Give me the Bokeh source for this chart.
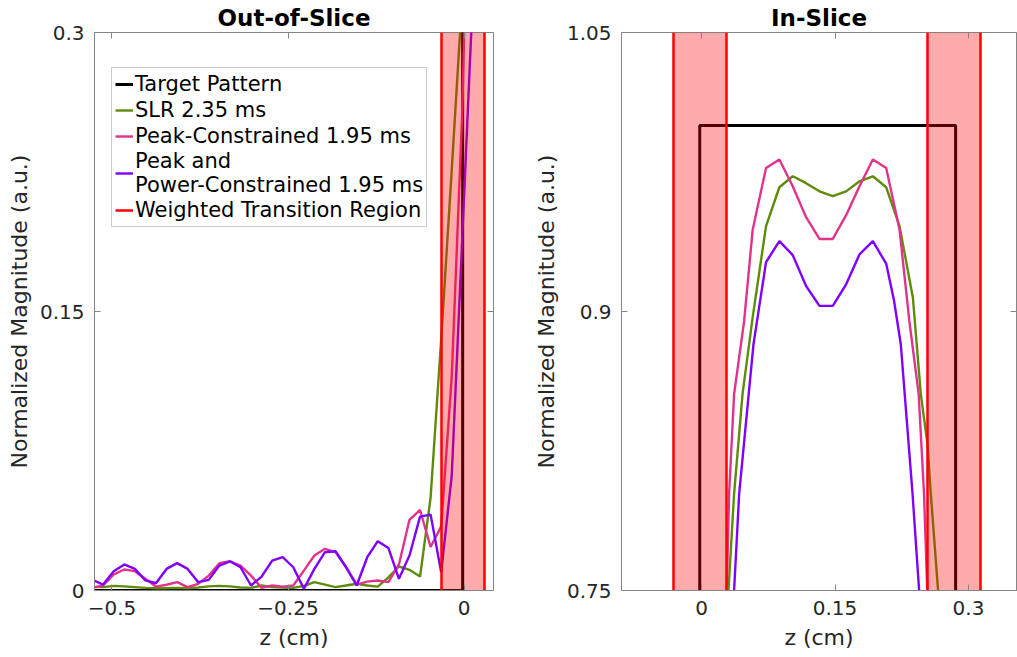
from bokeh.plotting import figure
from bokeh.models import Range1d, LinearAxis, FixedTicker, Legend, LegendItem
from bokeh.layouts import row
from bokeh.embed import file_html
from bokeh.resources import INLINE

# ---------------- data ----------------
# target slice profile
target_z = [-0.5275, -0.002, -0.002, 0.2855, 0.2855, 0.40]
target_m = [0, 0, 1, 1, 0, 0]

# weighted transition regions (cm)
band_lo = [-0.0315, 0.2535]
band_hi = [0.0285, 0.3135]

# out-of-slice sample grid (cm)
z_out = [-0.5275, -0.5125, -0.4975, -0.4825, -0.4675, -0.4525, -0.4375, -0.4225,
         -0.4075, -0.3925, -0.3775, -0.3625, -0.3475, -0.3325, -0.3175, -0.3025,
         -0.2875, -0.2725, -0.2575, -0.2425, -0.2275, -0.2125, -0.1975, -0.1825,
         -0.1675, -0.1525, -0.1375, -0.1225, -0.1075, -0.0925, -0.0775, -0.0625,
         -0.0475, -0.0325, -0.0175, -0.0025]

slr_out = [0.002, 0.0018, 0.0025, 0.0022, 0.0018, 0.0014, 0.0012, 0.0012, 0.0014,
           0.0012, 0.0016, 0.0022, 0.0025, 0.0022, 0.0016, 0.0014, 0.0027, 0.0018,
           0.0016, 0.0014, 0.0025, 0.0045, 0.0032, 0.0018, 0.0027, 0.0036, 0.0027,
           0.0021, 0.0071, 0.0129, 0.0111, 0.0075, 0.05, 0.135, 0.226, 0.32]
slr_in_z = [0.0303, 0.0366, 0.0461, 0.0575, 0.0725, 0.0875, 0.1025, 0.1175, 0.1325,
            0.1475, 0.1625, 0.1775, 0.1925, 0.2075, 0.2225, 0.2375, 0.2464, 0.2539,
            0.2576, 0.2658, 0.28]
slr_in = [0.75, 0.802, 0.8557, 0.897, 0.9459, 0.9668, 0.9727, 0.969, 0.9646, 0.962,
          0.9646, 0.97, 0.9727, 0.9668, 0.9459, 0.9074, 0.8556, 0.8287, 0.802, 0.75, 0.62]

peak_out = [0.0014, 0.0027, 0.0086, 0.0113, 0.0104, 0.0063, 0.0021, 0.0031, 0.0045,
            0.0018, 0.0036, 0.008, 0.0147, 0.0157, 0.0134, 0.008, 0.0014, 0.0027,
            0.0021, 0.0027, 0.0107, 0.0188, 0.0224, 0.0206, 0.0125, 0.0032, 0.0048,
            0.0054, 0.0045, 0.014, 0.038, 0.0433, 0.0234, 0.0345, 0.115, 0.258]
peak_in_z = [0.0125, 0.0284, 0.031, 0.0366, 0.0479, 0.0575, 0.0725, 0.0875, 0.1025,
             0.1175, 0.1325, 0.1475, 0.1625, 0.1775, 0.1925, 0.2075, 0.2225, 0.2335,
             0.2440, 0.2500, 0.2536, 0.26]
peak_in = [0.50, 0.75, 0.802, 0.8556, 0.8949, 0.944, 0.9772, 0.9817, 0.9673, 0.9507,
           0.939, 0.939, 0.9518, 0.9673, 0.9817, 0.9772, 0.944, 0.8949, 0.8556, 0.802,
           0.75, 0.62]

pp_out = [0.0057, 0.0032, 0.0104, 0.014, 0.0116, 0.0054, 0.0039, 0.0116, 0.0147,
          0.0116, 0.0045, 0.0057, 0.0134, 0.0157, 0.0125, 0.0027, 0.0075, 0.0161,
          0.0179, 0.0125, 0.0009, 0.0116, 0.0206, 0.0211, 0.0125, 0.0027, 0.0179,
          0.0265, 0.0229, 0.0063, 0.0188, 0.0397, 0.0408, 0.0098, 0.0617, 0.19]
pp_in_z = [0.0125, 0.0366, 0.0423, 0.0584, 0.0658, 0.0725, 0.0875, 0.1025, 0.1175,
           0.1325, 0.1475, 0.1625, 0.1775, 0.1925, 0.2075, 0.2164, 0.2239, 0.2371,
           0.2445, 0.26]
pp_in = [0.32, 0.75, 0.802, 0.8824, 0.9056, 0.9266, 0.9378, 0.9303, 0.9137, 0.903,
         0.903, 0.9146, 0.9307, 0.9378, 0.9257, 0.9056, 0.8824, 0.802, 0.75, 0.5]

series = [
    ("SLR 2.35 ms", z_out + slr_in_z, slr_out + slr_in, "#5E8C0A"),
    ("Peak-Constrained 1.95 ms", z_out + peak_in_z, peak_out + peak_in, "#E2338C"),
    ("Peak and\nPower-Constrained 1.95 ms", z_out + pp_in_z, pp_out + pp_in, "#7F00FF"),
]

left_xticks = [-0.5, -0.25, 0]
left_xlabels = {"-0.5": "\u22120.5", "-0.25": "\u22120.25", "0": "0"}
left_yticks = [0, 0.15, 0.3]
left_ylabels = {"0": "0", "0.15": "0.15", "0.3": "0.3"}
right_xticks = [0, 0.15, 0.3]
right_xlabels = {"0": "0", "0.15": "0.15", "0.3": "0.3"}
right_yticks = [0.75, 0.9, 1.05]
right_ylabels = {"0.75": "0.75", "0.9": "0.9", "1.05": "1.05"}

FONT = "DejaVu Sans"
AX = "#858585"
TXT = "#262626"


def make_fig(title, xr, yr, xt, xl, yt, yl, width, bl, br):
    p = figure(width=width, height=657, x_range=Range1d(*xr), y_range=Range1d(*yr),
               output_backend="svg", toolbar_location=None,
               min_border_left=bl, min_border_right=br,
               min_border_top=31, min_border_bottom=67)
    p.title.text = title
    p.title.align = "center"
    p.title.text_font = FONT
    p.title.text_font_size = "23px"
    p.title.text_font_style = "bold"
    p.title.text_color = "black"
    p.title.standoff = 4
    p.xgrid.visible = False
    p.ygrid.visible = False
    p.outline_line_color = AX
    p.outline_line_width = 1
    p.background_fill_color = "white"
    p.border_fill_color = "white"

    p.xaxis.ticker = FixedTicker(ticks=xt)
    p.xaxis.major_label_overrides = xl
    p.yaxis.ticker = FixedTicker(ticks=yt)
    p.yaxis.major_label_overrides = yl
    p.xaxis.axis_label = "z (cm)"
    p.yaxis.axis_label = "Normalized Magnitude (a.u.)"
    for ax in (p.xaxis[0], p.yaxis[0]):
        ax.axis_line_color = AX
        ax.major_tick_line_color = AX
        ax.major_tick_in = 6
        ax.major_tick_out = 0
        ax.minor_tick_line_color = None
        ax.major_label_text_font = FONT
        ax.major_label_text_font_size = "20px"
        ax.major_label_text_color = TXT
        ax.axis_label_text_font = FONT
        ax.axis_label_text_font_size = "22px"
        ax.axis_label_text_font_style = "normal"
        ax.axis_label_text_color = TXT
    p.yaxis.major_label_standoff = 10
    p.yaxis.axis_label_standoff = 5
    p.xaxis.major_label_standoff = 10
    p.xaxis.axis_label_standoff = 7

    # mirrored ticks on top and right (box on), without labels
    for loc, ticks in (("above", xt), ("right", yt)):
        mirror = LinearAxis(ticker=FixedTicker(ticks=ticks),
                            major_label_text_font_size="0px",
                            major_label_text_color=None,
                            major_label_standoff=0, axis_line_color=None,
                            major_tick_line_color=AX, major_tick_in=6,
                            major_tick_out=0, minor_tick_line_color=None)
        p.add_layout(mirror, loc)

    renderers = []
    r = p.line(target_z, target_m, line_color="black", line_width=3)
    renderers.append(("Target Pattern", r))
    for name, zz, mm, col in series:
        r = p.line(zz, mm, line_color=col, line_width=2.4)
        renderers.append((name, r))
    p.vstrip(x0=band_lo, x1=band_hi, fill_color="red", fill_alpha=0.33, line_alpha=0)
    p.vspan(x=band_lo + band_hi, line_color="red", line_width=2.5)
    # legend stand-in for the band edges (no visible data)
    r = p.line(x=[float("nan")], y=[float("nan")], line_color="red", line_width=2.5)
    renderers.append(("Weighted Transition Region", r))
    return p, renderers


p1, rend = make_fig("Out-of-Slice", (-0.5248, 0.0418), (0, 0.3), left_xticks, left_xlabels,
                    left_yticks, left_ylabels, 520, 94, 27)
p2, _ = make_fig("In-Slice", (-0.0899, 0.3539), (0.75, 1.05), right_xticks, right_xlabels,
                 right_yticks, right_ylabels, 497, 101, 1)

legend = Legend(items=[LegendItem(label=n, renderers=[r]) for n, r in rend],
                location=(17, 363))
legend.label_text_font = FONT
legend.label_text_font_size = "21px"
legend.label_text_color = "black"
legend.glyph_width = 18
legend.glyph_height = 26
legend.label_height = 26
legend.label_standoff = 2
legend.padding = 3
legend.spacing = 0
legend.margin = 0
legend.border_line_color = "#9a9a9a"
legend.border_line_width = 1
legend.background_fill_color = "white"
legend.background_fill_alpha = 1
p1.add_layout(legend)

layout = row(p1, p2)
open("out.html", "w").write(file_html(layout, INLINE))
